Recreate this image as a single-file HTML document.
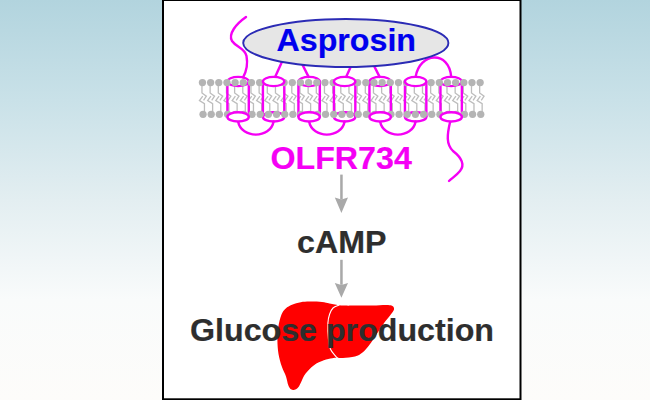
<!DOCTYPE html>
<html><head><meta charset="utf-8"><style>html,body{margin:0;padding:0;width:650px;height:400px;overflow:hidden;background:#fff}</style></head>
<body><svg width="650" height="400" viewBox="0 0 650 400" style="position:absolute;left:0;top:0">
<defs><linearGradient id="bg" x1="0" y1="0" x2="0" y2="1">
<stop offset="0" stop-color="#b2d4de"/><stop offset="0.25" stop-color="#c9e1e8"/><stop offset="0.5" stop-color="#e3eef1"/><stop offset="0.75" stop-color="#f9fbfb"/><stop offset="1" stop-color="#fdfcfa"/></linearGradient></defs>
<rect width="650" height="400" fill="url(#bg)"/>
<rect x="163" y="0" width="357.5" height="399.3" fill="#ffffff" stroke="#000" stroke-width="2"/>
<g fill="none" stroke="#f500f5" stroke-width="2.4" stroke-linecap="round"><path d="M246,17 C236,24 228,34 232,41 C236,47 245,48 246.5,56 C248,64 246,72 243.1,77.4"/><path d="M238.1,121.5 C241.1,139 270.6,139 273.6,121.5"/><path d="M309.1,121.5 C312.1,139 341.6,139 344.6,121.5"/><path d="M380.1,121.5 C383.1,139 412.6,139 415.6,121.5"/><path d="M275.1,76.9 L284.6,56 M308.6,76.9 L298.6,57"/><path d="M346.1,76.9 L355.6,56 M379.6,76.9 L369.6,57"/><path d="M415.6,76.9 C419.6,52 449.2,50 451.2,76.9"/><path d="M450.2,121.5 C447,135 446,144 453,151 C462,158 465,165 460,171 C456,176 452,178 449,181"/></g>
<ellipse cx="345.8" cy="43" rx="102.6" ry="24" fill="#e6e6e6" stroke="#2b2bb5" stroke-width="1.9"/>
<text x="276.5" y="51.4" font-family="Liberation Sans" font-weight="bold" font-size="32.2" fill="#0000ee" stroke="#0000ee" stroke-width="0.2">Asprosin</text>
<g fill="none" stroke="#bdbdbd" stroke-width="1.3"><path d="M201.95,85 V92.9 L206.35,96.2 L203.55,100.3"/><path d="M204.45,112 V103.6 L199.45,100.6 L202.75,96.2"/><path d="M210.12,85 V92.9 L214.52,96.2 L211.72,100.3"/><path d="M212.62,112 V103.6 L207.62,100.6 L210.92,96.2"/><path d="M218.29,85 V92.9 L222.69,96.2 L219.89,100.3"/><path d="M220.79,112 V103.6 L215.79,100.6 L219.09,96.2"/><path d="M226.45,85 V92.9 L230.85,96.2 L228.05,100.3"/><path d="M228.95,112 V103.6 L223.95,100.6 L227.25,96.2"/><path d="M234.62,85 V92.9 L239.02,96.2 L236.22,100.3"/><path d="M237.12,112 V103.6 L232.12,100.6 L235.42,96.2"/><path d="M242.79,85 V92.9 L247.19,96.2 L244.39,100.3"/><path d="M245.29,112 V103.6 L240.29,100.6 L243.59,96.2"/><path d="M250.96,85 V92.9 L255.36,96.2 L252.56,100.3"/><path d="M253.46,112 V103.6 L248.46,100.6 L251.76,96.2"/><path d="M259.12,85 V92.9 L263.52,96.2 L260.72,100.3"/><path d="M261.62,112 V103.6 L256.62,100.6 L259.92,96.2"/><path d="M267.29,85 V92.9 L271.69,96.2 L268.89,100.3"/><path d="M269.79,112 V103.6 L264.79,100.6 L268.09,96.2"/><path d="M275.46,85 V92.9 L279.86,96.2 L277.06,100.3"/><path d="M277.96,112 V103.6 L272.96,100.6 L276.26,96.2"/><path d="M283.63,85 V92.9 L288.03,96.2 L285.23,100.3"/><path d="M286.13,112 V103.6 L281.13,100.6 L284.43,96.2"/><path d="M291.79,85 V92.9 L296.19,96.2 L293.39,100.3"/><path d="M294.29,112 V103.6 L289.29,100.6 L292.59,96.2"/><path d="M299.96,85 V92.9 L304.36,96.2 L301.56,100.3"/><path d="M302.46,112 V103.6 L297.46,100.6 L300.76,96.2"/><path d="M308.13,85 V92.9 L312.53,96.2 L309.73,100.3"/><path d="M310.63,112 V103.6 L305.63,100.6 L308.93,96.2"/><path d="M316.30,85 V92.9 L320.70,96.2 L317.90,100.3"/><path d="M318.80,112 V103.6 L313.80,100.6 L317.10,96.2"/><path d="M324.46,85 V92.9 L328.86,96.2 L326.06,100.3"/><path d="M326.96,112 V103.6 L321.96,100.6 L325.26,96.2"/><path d="M332.63,85 V92.9 L337.03,96.2 L334.23,100.3"/><path d="M335.13,112 V103.6 L330.13,100.6 L333.43,96.2"/><path d="M340.80,85 V92.9 L345.20,96.2 L342.40,100.3"/><path d="M343.30,112 V103.6 L338.30,100.6 L341.60,96.2"/><path d="M348.97,85 V92.9 L353.37,96.2 L350.57,100.3"/><path d="M351.47,112 V103.6 L346.47,100.6 L349.77,96.2"/><path d="M357.14,85 V92.9 L361.54,96.2 L358.74,100.3"/><path d="M359.64,112 V103.6 L354.64,100.6 L357.94,96.2"/><path d="M365.30,85 V92.9 L369.70,96.2 L366.90,100.3"/><path d="M367.80,112 V103.6 L362.80,100.6 L366.10,96.2"/><path d="M373.47,85 V92.9 L377.87,96.2 L375.07,100.3"/><path d="M375.97,112 V103.6 L370.97,100.6 L374.27,96.2"/><path d="M381.64,85 V92.9 L386.04,96.2 L383.24,100.3"/><path d="M384.14,112 V103.6 L379.14,100.6 L382.44,96.2"/><path d="M389.81,85 V92.9 L394.21,96.2 L391.41,100.3"/><path d="M392.31,112 V103.6 L387.31,100.6 L390.61,96.2"/><path d="M397.97,85 V92.9 L402.37,96.2 L399.57,100.3"/><path d="M400.47,112 V103.6 L395.47,100.6 L398.77,96.2"/><path d="M406.14,85 V92.9 L410.54,96.2 L407.74,100.3"/><path d="M408.64,112 V103.6 L403.64,100.6 L406.94,96.2"/><path d="M414.31,85 V92.9 L418.71,96.2 L415.91,100.3"/><path d="M416.81,112 V103.6 L411.81,100.6 L415.11,96.2"/><path d="M422.48,85 V92.9 L426.88,96.2 L424.08,100.3"/><path d="M424.98,112 V103.6 L419.98,100.6 L423.28,96.2"/><path d="M430.64,85 V92.9 L435.04,96.2 L432.24,100.3"/><path d="M433.14,112 V103.6 L428.14,100.6 L431.44,96.2"/><path d="M438.81,85 V92.9 L443.21,96.2 L440.41,100.3"/><path d="M441.31,112 V103.6 L436.31,100.6 L439.61,96.2"/><path d="M446.98,85 V92.9 L451.38,96.2 L448.58,100.3"/><path d="M449.48,112 V103.6 L444.48,100.6 L447.78,96.2"/><path d="M455.15,85 V92.9 L459.55,96.2 L456.75,100.3"/><path d="M457.65,112 V103.6 L452.65,100.6 L455.95,96.2"/><path d="M463.31,85 V92.9 L467.71,96.2 L464.91,100.3"/><path d="M465.81,112 V103.6 L460.81,100.6 L464.11,96.2"/><path d="M471.48,85 V92.9 L475.88,96.2 L473.08,100.3"/><path d="M473.98,112 V103.6 L468.98,100.6 L472.28,96.2"/><path d="M479.65,85 V92.9 L484.05,96.2 L481.25,100.3"/><path d="M482.15,112 V103.6 L477.15,100.6 L480.45,96.2"/></g>
<g fill="none" stroke="#f500f5" stroke-width="2.4"><ellipse cx="238.10" cy="81.5" rx="10.7" ry="4.6"/><ellipse cx="273.61" cy="116.9" rx="10.7" ry="4.6"/><ellipse cx="309.12" cy="81.5" rx="10.7" ry="4.6"/><ellipse cx="344.63" cy="116.9" rx="10.7" ry="4.6"/><ellipse cx="380.14" cy="81.5" rx="10.7" ry="4.6"/><ellipse cx="415.65" cy="116.9" rx="10.7" ry="4.6"/><ellipse cx="451.16" cy="81.5" rx="10.7" ry="4.6"/><path d="M227.40,81.5 V116.9 M248.80,81.5 V116.9"/><path d="M262.91,81.5 V116.9 M284.31,81.5 V116.9"/><path d="M298.42,81.5 V116.9 M319.82,81.5 V116.9"/><path d="M333.93,81.5 V116.9 M355.33,81.5 V116.9"/><path d="M369.44,81.5 V116.9 M390.84,81.5 V116.9"/><path d="M404.95,81.5 V116.9 M426.35,81.5 V116.9"/><path d="M440.46,81.5 V116.9 M461.86,81.5 V116.9"/></g>
<g fill="#b4b4b4"><circle cx="202.45" cy="82.55" r="3.65"/><circle cx="203.05" cy="114.35" r="3.65"/><circle cx="210.62" cy="82.55" r="3.65"/><circle cx="211.22" cy="114.35" r="3.65"/><circle cx="218.79" cy="82.55" r="3.65"/><circle cx="219.39" cy="114.35" r="3.65"/><circle cx="226.95" cy="82.55" r="3.65"/><circle cx="227.55" cy="114.35" r="3.65"/><circle cx="235.12" cy="82.55" r="3.65"/><circle cx="235.72" cy="114.35" r="3.65"/><circle cx="243.29" cy="82.55" r="3.65"/><circle cx="243.89" cy="114.35" r="3.65"/><circle cx="251.46" cy="82.55" r="3.65"/><circle cx="252.06" cy="114.35" r="3.65"/><circle cx="259.62" cy="82.55" r="3.65"/><circle cx="260.22" cy="114.35" r="3.65"/><circle cx="267.79" cy="82.55" r="3.65"/><circle cx="268.39" cy="114.35" r="3.65"/><circle cx="275.96" cy="82.55" r="3.65"/><circle cx="276.56" cy="114.35" r="3.65"/><circle cx="284.13" cy="82.55" r="3.65"/><circle cx="284.73" cy="114.35" r="3.65"/><circle cx="292.29" cy="82.55" r="3.65"/><circle cx="292.89" cy="114.35" r="3.65"/><circle cx="300.46" cy="82.55" r="3.65"/><circle cx="301.06" cy="114.35" r="3.65"/><circle cx="308.63" cy="82.55" r="3.65"/><circle cx="309.23" cy="114.35" r="3.65"/><circle cx="316.80" cy="82.55" r="3.65"/><circle cx="317.40" cy="114.35" r="3.65"/><circle cx="324.96" cy="82.55" r="3.65"/><circle cx="325.56" cy="114.35" r="3.65"/><circle cx="333.13" cy="82.55" r="3.65"/><circle cx="333.73" cy="114.35" r="3.65"/><circle cx="341.30" cy="82.55" r="3.65"/><circle cx="341.90" cy="114.35" r="3.65"/><circle cx="349.47" cy="82.55" r="3.65"/><circle cx="350.07" cy="114.35" r="3.65"/><circle cx="357.64" cy="82.55" r="3.65"/><circle cx="358.24" cy="114.35" r="3.65"/><circle cx="365.80" cy="82.55" r="3.65"/><circle cx="366.40" cy="114.35" r="3.65"/><circle cx="373.97" cy="82.55" r="3.65"/><circle cx="374.57" cy="114.35" r="3.65"/><circle cx="382.14" cy="82.55" r="3.65"/><circle cx="382.74" cy="114.35" r="3.65"/><circle cx="390.31" cy="82.55" r="3.65"/><circle cx="390.91" cy="114.35" r="3.65"/><circle cx="398.47" cy="82.55" r="3.65"/><circle cx="399.07" cy="114.35" r="3.65"/><circle cx="406.64" cy="82.55" r="3.65"/><circle cx="407.24" cy="114.35" r="3.65"/><circle cx="414.81" cy="82.55" r="3.65"/><circle cx="415.41" cy="114.35" r="3.65"/><circle cx="422.98" cy="82.55" r="3.65"/><circle cx="423.58" cy="114.35" r="3.65"/><circle cx="431.14" cy="82.55" r="3.65"/><circle cx="431.74" cy="114.35" r="3.65"/><circle cx="439.31" cy="82.55" r="3.65"/><circle cx="439.91" cy="114.35" r="3.65"/><circle cx="447.48" cy="82.55" r="3.65"/><circle cx="448.08" cy="114.35" r="3.65"/><circle cx="455.65" cy="82.55" r="3.65"/><circle cx="456.25" cy="114.35" r="3.65"/><circle cx="463.81" cy="82.55" r="3.65"/><circle cx="464.41" cy="114.35" r="3.65"/><circle cx="471.98" cy="82.55" r="3.65"/><circle cx="472.58" cy="114.35" r="3.65"/><circle cx="480.15" cy="82.55" r="3.65"/><circle cx="480.75" cy="114.35" r="3.65"/></g>
<g fill="#ffffff" stroke="#f500f5" stroke-width="2.4"><ellipse cx="238.10" cy="116.9" rx="10.7" ry="4.6"/><ellipse cx="273.61" cy="81.5" rx="10.7" ry="4.6"/><ellipse cx="309.12" cy="116.9" rx="10.7" ry="4.6"/><ellipse cx="344.63" cy="81.5" rx="10.7" ry="4.6"/><ellipse cx="380.14" cy="116.9" rx="10.7" ry="4.6"/><ellipse cx="415.65" cy="81.5" rx="10.7" ry="4.6"/><ellipse cx="451.16" cy="116.9" rx="10.7" ry="4.6"/></g>
<text x="270.5" y="169" font-family="Liberation Sans" font-weight="bold" font-size="32.2" fill="#f500f5" stroke="#f500f5" stroke-width="0.2">OLFR734</text>
<g fill="#a9a9a9" stroke="none">
<rect x="340.2" y="174.6" width="2.5" height="25"/><path d="M334.8,197.4 L341.4,199.6 L348,197.4 L341.4,213 Z"/>
<rect x="340.2" y="259.8" width="2.5" height="25"/><path d="M334.8,282.9 L341.4,285.1 L348,282.9 L341.4,297.8 Z"/>
</g>
<text x="297" y="253" font-family="Liberation Sans" font-weight="bold" font-size="32.2" fill="#2e2e2e" stroke="#2e2e2e" stroke-width="0.2">cAMP</text>
<path d="M281.40,314.75 C282.65,311.62 283.98,310.17 285.75,308.50 C287.52,306.83 289.50,305.79 292.00,304.75 C294.50,303.71 297.83,302.77 300.75,302.25 C303.67,301.73 305.96,301.64 309.50,301.60 C313.04,301.56 318.67,301.68 322.00,302.00 C325.33,302.32 326.92,303.00 329.50,303.50 C332.08,304.00 334.92,304.65 337.50,305.00 C340.08,305.35 342.08,305.50 345.00,305.60 C347.92,305.70 350.42,305.63 355.00,305.60 C359.58,305.57 367.33,305.52 372.50,305.40 C377.67,305.28 382.83,304.87 386.00,304.90 C389.17,304.93 390.17,305.05 391.50,305.60 C392.83,306.15 393.83,307.10 394.00,308.20 C394.17,309.30 394.21,309.65 392.50,312.20 C390.79,314.75 386.46,319.74 383.75,323.50 C381.04,327.26 378.62,331.21 376.25,334.75 C373.88,338.29 371.79,341.79 369.50,344.75 C367.21,347.71 364.92,350.54 362.50,352.50 C360.08,354.46 358.25,355.58 355.00,356.50 C351.75,357.42 345.98,357.78 343.00,358.00 C340.02,358.22 338.90,357.77 337.10,357.80 C335.30,357.83 334.42,357.78 332.20,358.20 C329.98,358.62 326.83,359.13 323.80,360.30 C320.77,361.47 317.03,362.98 314.00,365.20 C310.97,367.42 307.70,370.88 305.60,373.60 C303.50,376.32 302.62,379.22 301.40,381.50 C300.18,383.78 299.45,385.92 298.30,387.30 C297.15,388.68 295.72,389.47 294.50,389.80 C293.28,390.13 292.03,390.07 291.00,389.30 C289.97,388.53 289.13,387.35 288.30,385.20 C287.47,383.05 287.08,379.50 286.00,376.40 C284.92,373.30 283.05,370.33 281.80,366.60 C280.55,362.87 279.23,358.43 278.50,354.00 C277.77,349.57 277.44,344.46 277.40,340.00 C277.36,335.54 277.58,331.46 278.25,327.25 C278.92,323.04 280.15,317.88 281.40,314.75 Z" fill="#ff0000"/>
<path d="M339.30,305.00 C338.25,305.50 334.62,306.45 333.00,308.00 C331.38,309.55 330.45,311.80 329.60,314.30 C328.75,316.80 328.10,318.92 327.90,323.00 C327.70,327.08 327.97,334.42 328.40,338.80 C328.83,343.18 329.27,346.38 330.50,349.30 C331.73,352.22 334.58,354.82 335.80,356.30 C337.02,357.78 337.47,357.88 337.80,358.20" fill="none" stroke="#ffffff" stroke-width="1.1"/>
<text x="190" y="341" font-family="Liberation Sans" font-weight="bold" font-size="32.2" fill="#2e2e2e" stroke="#2e2e2e" stroke-width="0.2">Glucose production</text>
</svg></body></html>
